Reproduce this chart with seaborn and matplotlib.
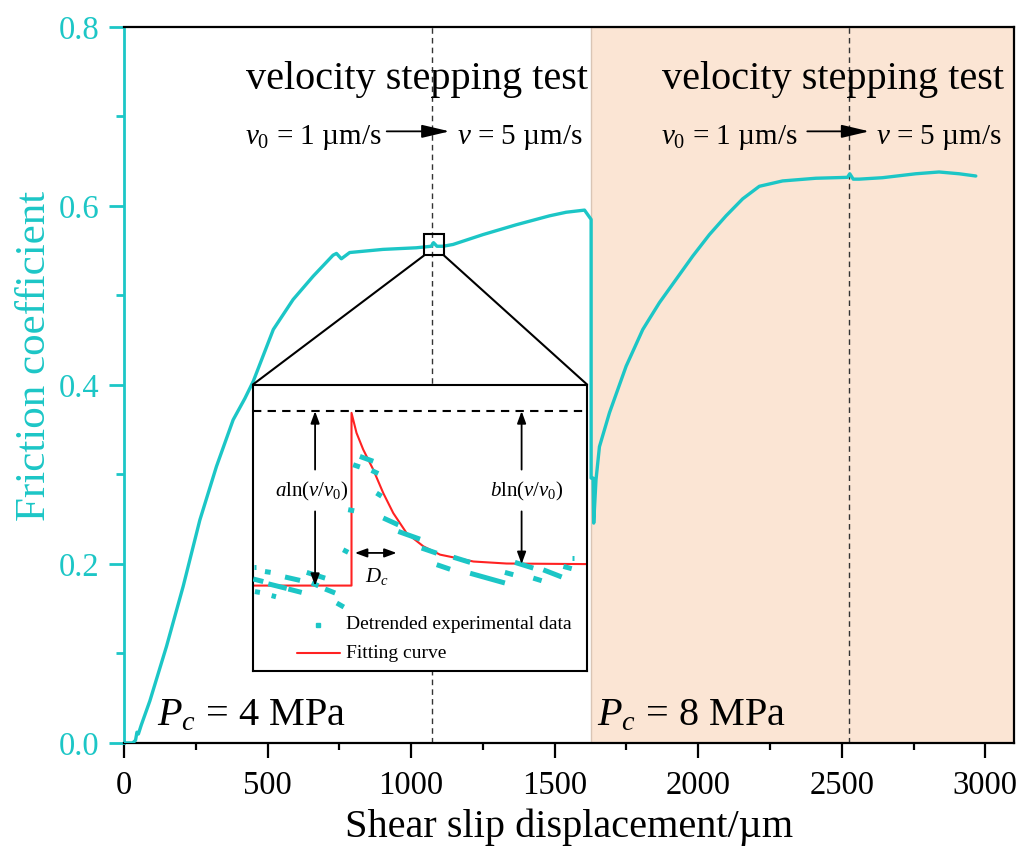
import numpy as np
import pandas as pd
import matplotlib
matplotlib.use("Agg")
import matplotlib.pyplot as plt
import seaborn as sns
from matplotlib.patches import Rectangle
from matplotlib.ticker import MultipleLocator, FormatStrFormatter

# ---------------- data ----------------
slip_um = [0, 30, 40, 45, 50, 60, 90, 148, 206, 264, 322, 380, 421, 450, 520, 589, 659,
           728, 740, 757, 786, 902, 1018, 1070, 1078, 1090, 1111, 1146, 1250, 1366, 1482,
           1540, 1604, 1627, 1627, 1634, 1636, 1644, 1656, 1691, 1749, 1807, 1865, 1923,
           1981, 2039, 2097, 2155, 2213, 2294, 2410, 2520, 2528, 2540, 2561, 2642, 2758,
           2839, 2909, 2967]
friction = [0.0, 0.0, 0.003, 0.012, 0.010, 0.020, 0.047, 0.108, 0.175, 0.249, 0.309,
            0.361, 0.385, 0.404, 0.462, 0.4955, 0.5216, 0.545, 0.547, 0.541, 0.548,
            0.5515, 0.5533, 0.555, 0.559, 0.555, 0.555, 0.557, 0.568, 0.579, 0.589,
            0.593, 0.5954, 0.585, 0.296, 0.296, 0.2457, 0.294, 0.331, 0.369, 0.421,
            0.462, 0.492, 0.518, 0.544, 0.568, 0.589, 0.608, 0.622, 0.628, 0.631,
            0.632, 0.636, 0.630, 0.630, 0.6316, 0.636, 0.638, 0.636, 0.6335]

x_ticks = [0, 500, 1000, 1500, 2000, 2500, 3000]
y_ticks = [0.0, 0.2, 0.4, 0.6, 0.8]

step_slips = [1072, 2526]          # velocity step positions
stage2_start = 1628                # start of Pc = 8 MPa stage

# inset: fitting curve (relative units 0-100)
fit_u = [0, 29.5, 29.5, 31.0, 33.0, 36.0, 39.0, 42.0, 46.0, 51.0, 56.0, 66.0, 75.9, 100]
fit_v = [29.8, 29.8, 90.1, 83.1, 77.3, 70.3, 62.1, 55.1, 48.1, 43.5, 40.6, 38.2, 37.5, 37.3]

# inset: detrended experimental data (short dashes: start/end)
dash_u0 = [0.3, 3.6, 0.1, 4.6, 10.6, 9.6, 16.1, 0.6, 5.6, 17.6, 21.6, 25.1,
           27.0, 28.5, 30.0, 32.0, 35.5, 37.0, 39.0, 43.5, 50.5, 55.0, 60.0, 65.0,
           75.4, 78.4, 83.9, 86.9, 92.9, 95.4]
dash_v0 = [36.2, 34.7, 32.1, 30.4, 28.6, 32.8, 34.4, 27.7, 26.3, 30.7, 28.6, 23.7,
           42.3, 56.3, 72.0, 74.9, 70.0, 62.1, 53.4, 48.7, 42.9, 37.1, 39.7, 34.1,
           34.4, 37.9, 32.4, 35.3, 36.5, 39.4]
dash_u1 = [0.9, 5.3, 3.1, 10.1, 14.6, 14.1, 21.6, 2.1, 6.9, 19.6, 24.6, 27.2,
           28.5, 30.3, 32.0, 36.0, 37.5, 38.5, 43.5, 50.0, 55.0, 59.0, 65.0, 75.4,
           77.9, 83.9, 86.4, 92.4, 95.4, 96.0]
dash_v1 = [36.2, 34.4, 31.2, 28.8, 27.4, 31.6, 32.4, 27.4, 25.9, 29.7, 27.2, 22.3,
           41.4, 55.9, 71.2, 73.2, 68.9, 61.0, 51.0, 46.0, 41.1, 35.5, 37.9, 30.7,
           33.6, 35.9, 31.5, 32.8, 35.7, 39.4]

# ---------------- style ----------------
CYAN = "#1CC6C6"
PEACH = "#FBE5D4"
RED = "#FF2222"

sns.set_theme(style="white")
plt.rcParams["font.family"] = ["Liberation Serif", "DejaVu Serif"]
plt.rcParams["mathtext.fontset"] = "custom"
plt.rcParams["mathtext.rm"] = "Liberation Serif"
plt.rcParams["mathtext.it"] = "Liberation Serif:italic"
plt.rcParams["text.color"] = "black"
plt.rcParams["axes.labelcolor"] = "black"
plt.rcParams["xtick.color"] = "black"
plt.rcParams["ytick.color"] = "black"

fig = plt.figure(figsize=(10.2, 8.49), dpi=100)
ax = fig.add_axes([0.1216, 0.1249, 0.8725, 0.8433])

ax.set_xlim(0, 3100)
ax.set_ylim(0, 0.8)

ax.axvspan(stage2_start, 3100, facecolor=PEACH, edgecolor="#D9C5B5", lw=1.0, zorder=0)
for xs in step_slips:
    ax.axvline(xs, color="#333333", lw=1.0, ls=(0, (4, 3)), zorder=1)

df = pd.DataFrame({"slip": slip_um, "mu": friction})
sns.lineplot(data=df, x="slip", y="mu", color=CYAN, lw=2.4, ax=ax,
             estimator=None, sort=False, zorder=3)

# axes styling
for side in ["top", "right", "bottom"]:
    ax.spines[side].set_color("black")
    ax.spines[side].set_linewidth(1.6)
ax.spines["left"].set_color(CYAN)
ax.spines["left"].set_linewidth(2.0)

ax.set_xticks(x_ticks)
ax.set_yticks(y_ticks)
ax.yaxis.set_major_formatter(FormatStrFormatter("%.1f"))
ax.xaxis.set_minor_locator(MultipleLocator(250))
ax.yaxis.set_minor_locator(MultipleLocator(0.1))
ax.tick_params(axis="x", which="major", direction="out", length=10.5, width=1.6,
               colors="black", labelsize=23.5, pad=9, bottom=True)
ax.tick_params(axis="x", which="minor", direction="out", length=5, width=1.6,
               colors="black", bottom=True)
ax.tick_params(axis="y", which="major", direction="out", length=10.5, width=2.0,
               colors=CYAN, labelsize=23.5, pad=7, left=True)
ax.tick_params(axis="y", which="minor", direction="out", length=5.5, width=2.0,
               colors=CYAN, left=True)
ax.set_xlabel("Shear slip displacement/µm", fontsize=29, color="black", labelpad=6)
ax.set_ylabel("Friction coefficient", fontsize=31, color=CYAN)
ax.yaxis.set_label_coords(-0.079, 0.54)

# annotations
for cx in [1021, 2470]:
    ax.text(cx, 0.7304, "velocity stepping test", fontsize=29, ha="center",
            va="baseline", zorder=4)
for x_v0, a0, a1, x_v in [(421, 915, 1134, 1159), (1871, 2380, 2596, 2619)]:
    ax.text(x_v0, 0.669, r"$v_0$ = 1 µm/s", fontsize=21, ha="left", va="baseline", zorder=4)
    ax.annotate("", xy=(a1, 0.6834), xytext=(a0, 0.6834),
                arrowprops=dict(arrowstyle="-|>,head_length=0.85,head_width=0.2",
                                mutation_scale=20, color="black", lw=1.3,
                                shrinkA=0, shrinkB=0), zorder=4)
    ax.text(x_v, 0.669, r"$v$ = 5 µm/s", fontsize=21, ha="left", va="baseline", zorder=4)

ax.text(115, 0.020, r"$P_c$ = 4 MPa", fontsize=29, ha="left", va="baseline", zorder=4)
ax.text(1646, 0.020, r"$P_c$ = 8 MPa", fontsize=29, ha="left", va="baseline", zorder=4)

# zoom box and inset
box_x, box_y, box_w, box_h = 1045, 0.5447, 69.5, 0.0235
ax.add_patch(Rectangle((box_x, box_y), box_w, box_h, fill=False, ec="black", lw=1.5, zorder=5))
ins_x, ins_y, ins_w, ins_h = 449, 0.0805, 1164, 0.32
ax.plot([box_x, ins_x], [box_y, ins_y + ins_h], color="black", lw=1.5, zorder=5)
ax.plot([box_x + box_w, ins_x + ins_w], [box_y, ins_y + ins_h], color="black", lw=1.5, zorder=5)

axin = ax.inset_axes([ins_x, ins_y, ins_w, ins_h], transform=ax.transData, zorder=6)
axin.set_facecolor("white")
axin.set_xlim(0, 100)
axin.set_ylim(0, 100)
axin.set_xticks([])
axin.set_yticks([])
for s in axin.spines.values():
    s.set_color("black")
    s.set_linewidth(1.5)
    s.set_visible(True)

fit_df = pd.DataFrame({"u": fit_u, "v": fit_v})
sns.lineplot(data=fit_df, x="u", y="v", color=RED, lw=1.5, ax=axin,
             estimator=None, sort=False, zorder=2)

rows = []
for i in range(len(dash_u0)):
    rows.append((i, dash_u0[i], dash_v0[i]))
    rows.append((i, dash_u1[i], dash_v1[i]))
dash_df = pd.DataFrame(rows, columns=["dash", "u", "v"])
sns.lineplot(data=dash_df, x="u", y="v", units="dash", estimator=None, color=CYAN,
             lw=3.6, ax=axin, zorder=3, solid_capstyle="butt")
axin.set_xlabel("")
axin.set_ylabel("")

axin.axhline(90.7, color="black", lw=1.5, ls=(0, (4, 3)), zorder=1)

arrow_kw = dict(arrowstyle="-|>,head_length=0.6,head_width=0.22", mutation_scale=12,
                color="black", lw=1.3, shrinkA=0, shrinkB=0)
for u, low in [(18.6, 29.7), (80.4, 37.3)]:
    axin.annotate("", xy=(u, 90.7), xytext=(u, 70.3), arrowprops=arrow_kw)
    axin.annotate("", xy=(u, low), xytext=(u, 55.7), arrowprops=arrow_kw)
axin.text(17.6, 62.7, r"$a\mathrm{ln}(v/v_{\mathit{0}})$", fontsize=15, ha="center", va="center")
axin.text(81.9, 62.7, r"$b\mathrm{ln}(v/v_{\mathit{0}})$", fontsize=15, ha="center", va="center")
axin.annotate("", xy=(43.0, 41.2), xytext=(30.5, 41.2),
              arrowprops=dict(arrowstyle="<|-|>,head_length=0.6,head_width=0.22",
                              mutation_scale=12, color="black", lw=1.3, shrinkA=0, shrinkB=0))
axin.text(37.2, 33.0, r"$D_c$", fontsize=15, ha="center", va="center")

# inset legend
axin.plot([19.6], [16.1], marker="s", ms=3.5, color=CYAN, ls="none")
axin.text(27.8, 16.1, "Detrended experimental data", fontsize=14, ha="left", va="center")
axin.plot([13.1, 26.0], [6.2, 6.2], color=RED, lw=1.5)
axin.text(27.8, 6.2, "Fitting curve", fontsize=14, ha="left", va="center")

fig.savefig("out.png", dpi=100)
